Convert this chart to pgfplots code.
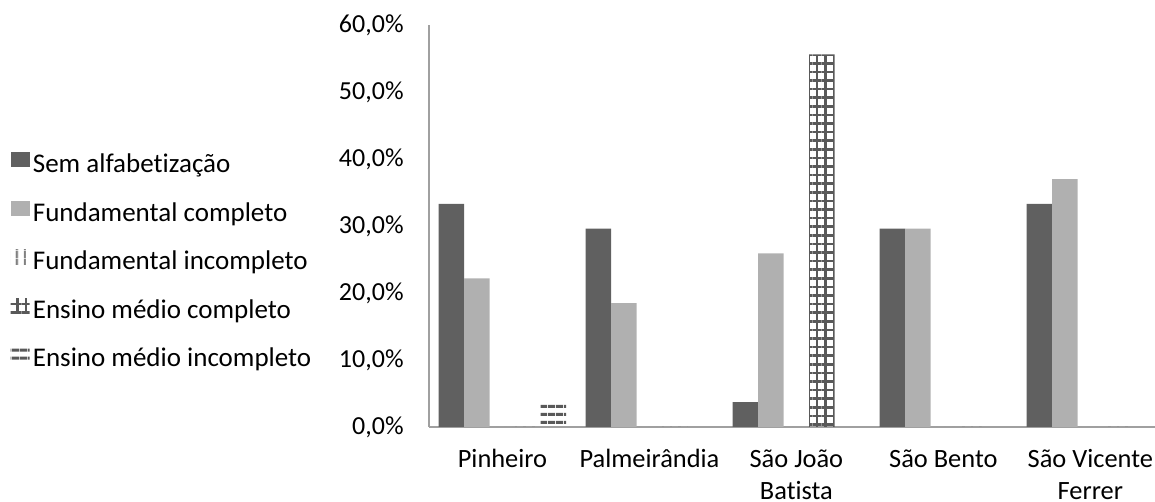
\documentclass[border=0pt]{standalone}
\usepackage{fontspec}
\setmainfont[Ligatures=NoCommon]{Carlito}
\usepackage{pgfplots}
\pgfplotsset{compat=1.18}
\usetikzlibrary{patterns.meta}

\definecolor{darkbar}{HTML}{606060}
\definecolor{lightbar}{HTML}{B0B0B0}
\definecolor{axisgray}{HTML}{A0A0A0}
\definecolor{pat}{HTML}{595959}

\begin{document}
\begin{tikzpicture}
\path[use as bounding box] (-214.5pt,-37.5pt) rectangle (363pt,213.5pt);
\begin{axis}[
    scale only axis,
    width=363pt, height=201pt,
    ybar=0pt, bar width=12.75pt,
    xmin=-0.5, xmax=4.44,
    ymin=0, ymax=60,
    xtick={0,1,2,3,4},
    xticklabels={Pinheiro, Palmeirândia, {São João\\Batista}, São Bento, {São Vicente\\Ferrer}},
    ytick={0,10,20,30,40,50,60},
    yticklabel={\pgfmathprintnumber[fixed,fixed zerofill,precision=1,use comma,assume math mode=true]{\tick}\%},
    major tick length=0pt,
    axis x line*=bottom, axis y line*=left,
    axis line style={draw=axisgray, line width=1pt, -},
    xticklabel style={font=\fontsize{13.2}{16}\selectfont, align=center, anchor=north, inner sep=0pt, yshift=-11pt},
    yticklabel style={font=\fontsize{13}{15}\selectfont, anchor=east, inner sep=0pt, xshift=-12.5pt},
    legend style={at={(-0.585,0.694)}, anchor=north west, draw=none, fill=none,
        font=\fontsize{13.5}{15}\selectfont,
        nodes={inner sep=0pt, text height=9pt, text depth=3pt},
        row sep=11.3pt,
        /tikz/every odd column/.append style={column sep=1.6pt}},
    legend cell align=left,
    legend image code/.code={\path[#1, draw=none] (0pt,-0.5pt) rectangle (9.5pt,7pt);},
]
\addplot[fill=darkbar, draw=none] coordinates {(0,33.3) (1,29.6) (2,3.7) (3,29.6) (4,33.3)};
\addplot[fill=lightbar, draw=none] coordinates {(0,22.2) (1,18.5) (2,25.9) (3,29.6) (4,37.0)};
\addplot[draw=none, pattern={Lines[angle=90, distance=4pt, line width=1.3pt]}, pattern color=gray] coordinates {(0,0) (1,0) (2,0) (3,0) (4,0)};
\addplot[draw=none, pattern={Hatch[angle=0, distance=4.3pt, line width=1.3pt]}, pattern color=pat] coordinates {(0,0) (1,0) (2,55.6) (3,0) (4,0)};
\addplot[draw=none, pattern={Lines[angle=0, distance=4pt, line width=1.6pt]}, pattern color=pat] coordinates {(0,3.7) (1,0) (2,0) (3,0) (4,0)};
\legend{Sem alfabetização, Fundamental completo, Fundamental incompleto, Ensino médio completo, Ensino médio incompleto}
\end{axis}
\end{tikzpicture}
\end{document}
